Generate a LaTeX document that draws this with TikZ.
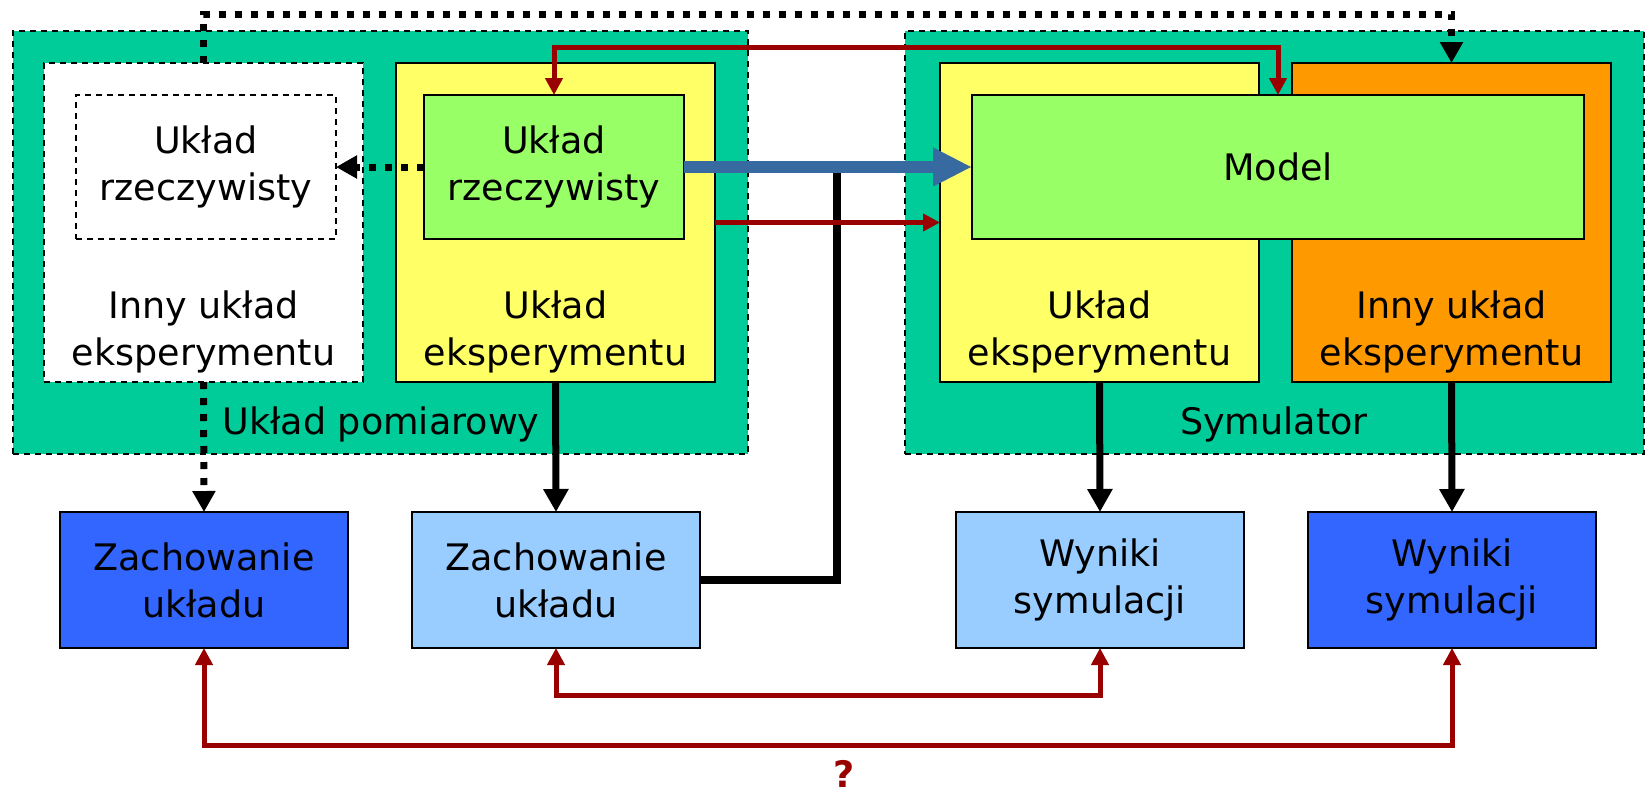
\documentclass[tikz,border=0pt]{standalone}
\usepackage{fontspec}
\setmainfont{DejaVu Sans}
\usetikzlibrary{arrows.meta}
\definecolor{panelc}{HTML}{00CC99}
\definecolor{yel}{HTML}{FFFF66}
\definecolor{lgreen}{HTML}{99FF66}
\definecolor{orng}{HTML}{FF9900}
\definecolor{dblue}{HTML}{3366FF}
\definecolor{lblue}{HTML}{99CCFF}
\definecolor{dred}{HTML}{990000}
\definecolor{steel}{HTML}{376AA0}
\begin{document}
\begin{tikzpicture}[x=1pt,y=-1pt,
  every node/.style={font=\fontsize{36.5}{47}\selectfont, align=center, inner sep=0pt, outer sep=0pt},
  panel/.style={draw=black, fill=panelc, line width=1.5pt, dash pattern=on 6pt off 5pt},
  box/.style={draw=black, line width=2pt},
  dbox/.style={draw=black, line width=1.5pt, dash pattern=on 6pt off 5pt, fill=white},
  bigbox/.style={minimum width=319, minimum height=319},
  inbox/.style={minimum width=260, minimum height=144},
  resbox/.style={box, minimum width=288, minimum height=136},
  dotarrow/.style={line width=7pt, dash pattern=on 7pt off 9pt, -{Triangle[length=21pt,width=22pt]}},
  blackarrow/.style={line width=7pt, -{Triangle[length=23pt,width=24pt]}},
  blackline/.style={line width=8pt},
  redline/.style={draw=dred, line width=5pt},
  redboth/.style={redline, {Triangle[length=17pt,width=17pt]}-{Triangle[length=17pt,width=17pt]}},
  redend/.style={redline, -{Triangle[length=17pt,width=17pt]}},
  bluearrow/.style={draw=steel, line width=12pt, -{Triangle[length=39pt,width=36pt]}}
]
\useasboundingbox (0,0) rectangle (1647,796);

% panels
\node[panel, minimum width=735, minimum height=423] (pomiar) at (380.5,242.5) {};
\node[panel, minimum width=739, minimum height=423] (sym) at (1274.5,242.5) {};

% inner boxes
\node[dbox, bigbox] (innyL) at (203.5,222.5) {};
\node[box, fill=yel, bigbox] (ekspL) at (555.5,222.5) {};
\node[box, fill=yel, bigbox] (ekspR) at (1099.5,222.5) {};
\node[box, fill=orng, bigbox] (innyR) at (1451.5,222.5) {};
\node[dbox, inbox] (rzeczD) at (206,167) {Układ\\rzeczywisty};
\node[box, fill=lgreen, inbox] (rzecz) at (554,167) {Układ\\rzeczywisty};
\node[box, fill=lgreen, minimum width=612, minimum height=144] (model) at (1278,167) {Model};

% box labels
\node (tInnyL) at (203.5,332) {Inny układ\\eksperymentu};
\node (tEkspL) at (555.5,332) {Układ\\eksperymentu};
\node (tEkspR) at (1099.5,332) {Układ\\eksperymentu};
\node (tInnyR) at (1451.5,332) {Inny układ\\eksperymentu};
\node (tPom) at (381,424) {Układ pomiarowy};
\node (tSym) at (1274,424) {Symulator};

% result boxes
\node[resbox, fill=dblue] (zachA) at (204,580) {Zachowanie\\układu};
\node[resbox, fill=lblue] (zachB) at (556,580) {Zachowanie\\układu};
\node[resbox, fill=lblue] (wynA) at (1100,580) {Wyniki\\symulacji};
\node[resbox, fill=dblue] (wynB) at (1452,580) {Wyniki\\symulacji};

% dotted connectors
\draw[dotarrow] (innyL.north) -- ++(0,-49) -| (innyR.north);
\draw[dotarrow] (innyL.south) -- (zachA.north);
\draw[dotarrow] (rzecz.west) -- (rzeczD.east);

% black connector into the blue arrow
\coordinate (jn) at (837,172);
\draw[blackline] (zachB.east) -| (jn);

% blue arrow
\draw[bluearrow] (rzecz.east) -- (model.west);

% red connectors
\draw[redboth] (rzecz.north) -- ++(0,-48) -| (model.north);
\draw[redend] (ekspL.east) -- (ekspR.west);
\draw[redboth] (zachB.south) -- ++(0,47) -| (wynA.south);
\draw[redboth] (zachA.south) -- ++(0,97) -| (wynB.south);

% black arrows
\draw[blackarrow] (ekspL.south) -- (zachB.north);
\draw[blackarrow] (ekspR.south) -- (wynA.north);
\draw[blackarrow] (innyR.south) -- (wynB.north);

\node[text=dred, font=\fontsize{36.5}{47}\selectfont\bfseries, anchor=base] (q) at (844,787) {?};
\end{tikzpicture}
\end{document}
